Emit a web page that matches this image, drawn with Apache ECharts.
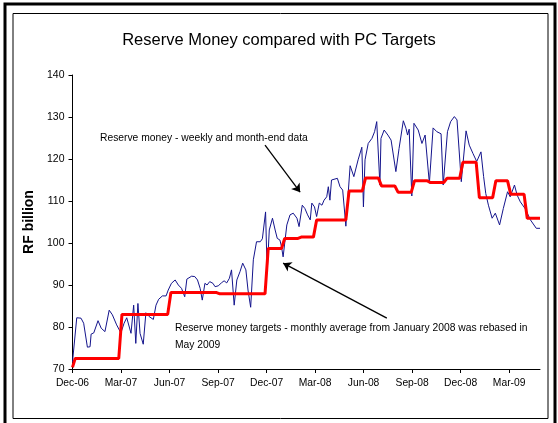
<!DOCTYPE html>
<html>
<head>
<meta charset="utf-8">
<title>Reserve Money compared with PC Targets</title>
<script src="https://cdn.jsdelivr.net/npm/echarts@6/dist/echarts.min.js"></script>
</head>
<body style="margin:0;background:#fff">
<div id="main" style="width:558px;height:423px;"></div>
<script>
// reserve money, weekly and month-end observations (x = days since 1 Dec 2006)
var rmDays = [0, 8, 16, 21, 28, 33, 35, 40, 48, 54,
  61, 69, 75, 83, 91, 97, 102, 110, 115, 119,
  123, 127, 133, 138, 144, 152, 157, 162, 169, 176,
  180, 186, 193, 199, 205, 211, 215, 224, 230, 235,
  240, 244, 249, 253, 258, 264, 268, 274, 280, 285,
  290, 295, 299, 304, 309, 315, 320, 326, 330, 335,
  340, 346, 353, 357, 363, 366, 370, 376, 381, 385,
  390, 393, 396, 403, 409, 415, 422, 426, 432, 437,
  442, 447, 450, 455, 459, 464, 469, 473, 478, 481,
  484, 487, 490, 498, 503, 508, 514, 522, 529, 537,
  544, 547, 550, 556, 563, 568, 572, 578, 580, 586,
  593, 599, 608, 614, 622, 627, 630, 633, 638, 642,
  650, 657, 663, 671, 678, 685, 693, 697, 705, 711,
  718, 723, 731, 740, 746, 753, 760, 768, 773, 777,
  782, 789, 795, 803, 810, 818, 823, 831, 836, 842,
  851, 861, 872, 879];
var rmValues = [71.7, 82.2, 82.1, 80.9, 75.2, 75.3, 78.3, 78.6, 81.5, 79.7,
  78.9, 84.0, 82.9, 80.5, 78.6, 80.9, 82.2, 78.5, 85.2, 76.1,
  85.6, 78.5, 75.9, 83.4, 82.5, 81.8, 85.2, 86.6, 87.4, 87.4,
  88.8, 90.4, 91.2, 90.0, 89.2, 87.2, 91.4, 92.1, 92.0, 91.2,
  89.2, 86.4, 90.4, 90.0, 90.8, 90.4, 89.6, 89.8, 90.5, 91.0,
  90.5, 91.6, 93.6, 85.2, 91.2, 93.2, 95.2, 93.6, 88.8, 84.7,
  96.0, 100.3, 100.3, 101.0, 107.4, 93.0, 103.1, 105.9, 103.1, 101.1,
  100.7, 99.1, 96.7, 104.3, 106.7, 107.1, 105.9, 103.9, 109.0, 108.2,
  106.7, 105.5, 109.5, 108.6, 106.3, 109.5, 109.0, 110.2, 111.0, 113.4,
  110.2, 115.0, 115.4, 115.4, 113.4, 112.6, 104.0, 118.4, 115.8, 119.8,
  122.8, 108.6, 119.8, 123.7, 124.9, 126.5, 128.9, 113.8, 124.9, 126.9,
  125.7, 124.5, 117.0, 122.5, 129.1, 127.3, 125.7, 127.1, 111.2, 128.5,
  126.9, 123.7, 125.7, 114.2, 127.4, 126.5, 126.0, 113.8, 126.5, 128.9,
  130.1, 129.3, 114.6, 126.7, 123.3, 121.3, 119.4, 121.7, 115.8, 111.8,
  109.0, 105.9, 107.1, 104.3, 108.2, 112.2, 111.0, 113.8, 111.4, 109.8,
  108.2, 105.5, 103.5, 103.5];

// PC targets, monthly Dec-06 .. Apr-09
var targetOpening = 70.4;
var pcTargets = [72.5, 72.5, 72.5, 83, 83, 83, 88.2, 88.2, 88.2, 87.9, 87.9, 87.9,
  98.7, 101.1, 101.4, 105.5, 105.5, 112.4, 115.5, 113.6, 112.1, 114.8, 114.4, 115.4,
  119.2, 110.8, 114.8, 111.6, 105.9];

var tickLabels = ['Dec-06', 'Mar-07', 'Jun-07', 'Sep-07', 'Dec-07', 'Mar-08', 'Jun-08', 'Sep-08', 'Dec-08', 'Mar-09'];

var xMax = 879;

function dayOf(m) {
  return (Date.UTC(2006, 11 + m, 1) - Date.UTC(2006, 11, 1)) / 864e5;
}
var tickStep = dayOf(27) / 9;

var rmData = rmDays.map(function (d, i) { return [d, rmValues[i]]; });

var targetData = [[0, targetOpening]];
pcTargets.forEach(function (v, m) {
  var a = dayOf(m) + (m === 0 ? 5 : 3);
  var b = Math.min(dayOf(m + 1) - 3, xMax);
  targetData.push([a, v], [b, v]);
});

var myChart = echarts.init(document.getElementById('main'));
var font = 'Liberation Sans, Arial, sans-serif';

var option = {
  animation: false,
  backgroundColor: '#fff',
  title: {
    text: 'Reserve Money compared with PC Targets',
    left: 'center',
    top: 27,
    textStyle: { fontFamily: font, fontSize: 16.5, fontWeight: 'normal', color: '#000' }
  },
  grid: { left: 72.5, right: 18, top: 75, bottom: 54 },
  xAxis: {
    type: 'value',
    min: 0,
    max: xMax,
    interval: tickStep,
    splitLine: { show: false },
    axisLine: { onZero: false, lineStyle: { color: '#000', width: 1 } },
    axisTick: { inside: false, length: 4, lineStyle: { color: '#000' } },
    axisLabel: {
      color: '#000', fontFamily: font, fontSize: 10.3, margin: 9,
      showMaxLabel: false,
      formatter: function (v) { return tickLabels[Math.round(v / tickStep)] || ''; }
    }
  },
  yAxis: {
    type: 'value',
    min: 70,
    max: 140,
    interval: 10,
    name: 'RF billion',
    nameLocation: 'middle',
    nameGap: 30,
    nameTextStyle: { fontFamily: font, fontSize: 14, fontWeight: 'bold', color: '#000' },
    splitLine: { show: false },
    axisLine: { show: true, onZero: false, lineStyle: { color: '#000', width: 1 } },
    axisTick: { show: true, inside: false, length: 4, lineStyle: { color: '#000' } },
    axisLabel: { color: '#000', fontFamily: font, fontSize: 10.5, margin: 8 }
  },
  series: [
    {
      name: 'Reserve money',
      type: 'line',
      data: rmData,
      showSymbol: false,
      lineStyle: { color: '#14148c', width: 1 },
      z: 2,
      markLine: {
        silent: true,
        symbol: ['none', 'arrow'],
        symbolSize: 8,
        lineStyle: { color: '#000', width: 1.3, type: 'solid' },
        label: { show: false },
        data: [
          [{ coord: [362, 123.3] }, { coord: [428, 112.1] }],
          [{ coord: [591, 82.1] }, { coord: [396, 95.2] }]
        ]
      }
    },
    {
      name: 'PC targets',
      type: 'line',
      data: targetData,
      showSymbol: false,
      lineStyle: { color: '#ff0000', width: 3 },
      z: 3
    }
  ],
  graphic: [
    { type: 'rect', shape: { x: 5, y: 4, width: 550, height: 430 }, style: { fill: 'none', stroke: '#000', lineWidth: 3 }, silent: true },
    { type: 'rect', shape: { x: 13, y: 13.5, width: 535, height: 405 }, style: { fill: 'none', stroke: '#000', lineWidth: 1 }, silent: true },
    { type: 'text', left: 100, top: 133, style: { text: 'Reserve money - weekly and month-end data', fontFamily: font, fontSize: 10.3, fill: '#000' } },
    { type: 'text', left: 175, top: 320, style: { text: 'Reserve money targets - monthly average from January 2008 was rebased in\nMay 2009', fontFamily: font, fontSize: 10.3, lineHeight: 17, fill: '#000' } }
  ]
};

myChart.setOption(option);
</script>
</body>
</html>
